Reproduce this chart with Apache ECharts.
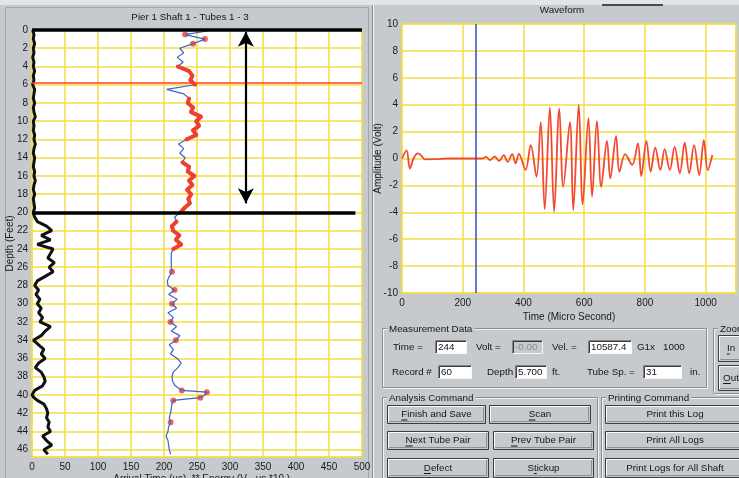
<!DOCTYPE html>
<html>
<head>
<meta charset="utf-8">
<title>Pier 1 Shaft 1 - Tubes 1 - 3</title>
<script src="https://cdn.jsdelivr.net/npm/echarts@6/dist/echarts.min.js"></script>
<style>
  html, body { margin: 0; padding: 0; background: #c6c9cd; }
  #chart { width: 739px; height: 478px; }
</style>
</head>
<body>
<div id="chart"></div>
<script>
// depth log (feet)
const depthFt = [0, 0.5, 1, 1.5, 2, 2.5, 3, 3.5, 4, 4.5, 5, 5.5, 6, 6.5, 7, 7.5, 8, 8.5, 9, 9.5,
  10, 10.5, 11, 11.5, 12, 12.5, 13, 13.5, 14, 14.5, 15, 15.5, 16, 16.5, 17, 17.5, 18, 18.5, 19, 19.5,
  20, 20.5, 21, 21.5, 22, 22.5, 23, 23.5, 24, 24.5, 25, 25.5, 26, 26.5, 27, 27.5, 28, 28.5, 29, 29.5,
  30, 30.5, 31, 31.5, 32, 32.5, 33, 33.5, 34, 34.5, 35, 35.5, 36, 36.5, 37, 37.5, 38, 38.5, 39, 39.5,
  39.7, 40, 40.3, 40.6, 41, 41.5, 42, 42.5, 43, 43.5, 44, 44.5, 45, 45.5, 46, 46.5]
// arrival time (us)
const arrivalUs = [274, 232, 262, 244, 224, 230, 220, 229, 221, 238, 243, 240, 247, 204, 230, 238, 236, 244, 241, 256,
  249, 253, 244, 249, 234, 222, 230, 224, 232, 228, 238, 236, 246, 238, 243, 235, 241, 237, 239, 231,
  225, 216, 219, 212, 214, 223, 218, 226, 214, 211, 211, 211, 211, 212, 208, 205, 206, 216, 207, 220,
  212, 219, 206, 214, 210, 219, 211, 224, 218, 208, 214, 210, 220, 226, 221, 214, 212, 213, 217, 227,
  265, 262, 255, 214, 212, 211, 210, 208, 210, 207, 206, 203, 206, 207, 208, 210]
// energy (V-us *10)
const energy = [1, 3, 2, 4, 2, 3, 1, 3, 2, 4, 2, 3, 1, 4, 3, 2, 4, 2, 3, 5,
  2, 3, 2, 4, 3, 5, 3, 2, 4, 3, 2, 4, 3, 5, 3, 2, 4, 2, 3, 4,
  2, 4, 8, 22, 30, 14, 28, 8, 32, 28, 24, 34, 26, 32, 20, 8, 4, 10, 6, 12,
  8, 14, 10, 16, 12, 28, 20, 14, 2, 10, 18, 14, 20, 10, 5, 14, 18, 20, 16, 4,
  1, 0, 3, 8, 18, 22, 24, 22, 26, 24, 28, 16, 22, 30, 18, 24]
// 2 = flagged band, 1 = flagged point, 0 = normal
const flag = [0, 1, 1, 1, 0, 0, 0, 0, 2, 2, 2, 2, 2, 0, 0, 2, 2, 2, 2, 2,
  2, 2, 2, 2, 2, 0, 0, 0, 0, 2, 2, 2, 2, 2, 2, 2, 2, 2, 2, 2,
  2, 0, 2, 2, 2, 2, 2, 2, 2, 0, 0, 0, 0, 1, 0, 0, 0, 1, 0, 0,
  1, 0, 0, 0, 1, 0, 0, 0, 1, 0, 0, 0, 0, 0, 0, 0, 0, 0, 0, 1,
  1, 0, 1, 1, 0, 0, 0, 0, 1, 0, 0, 0, 0, 0, 0, 0]

// waveform peaks / troughs
const waveTime = [0, 15, 26, 38, 52, 62, 76, 110, 150, 264, 276, 290, 305, 320, 335, 348, 363, 374, 385, 407,
  424, 443, 457, 470, 487, 501, 518, 531, 553, 564, 582, 595, 614, 626, 642, 656, 675, 686, 705, 716,
  735, 758, 777, 788, 805, 819, 834, 851, 865, 882, 898, 915, 931, 946, 962, 979, 994, 1007, 1022]
const waveVolt = [0, 0.6, -0.75, 0, 0.38, 0.25, -0.06, -0.05, 0, 0, 0.12, -0.12, 0.15, -0.18, 0.25, -0.25, 0.32, -0.36, 0.35, -0.85,
  1.0, -1.35, 2.7, -3.78, 3.8, -3.95, 3.7, -2.1, 2.7, -3.83, 4.0, -3.4, 3.0, -2.84, 2.8, -2.1, 1.3, -1.48, 1.67, -0.98,
  0.33, -0.48, 1.13, -1.3, 1.3, -0.98, 0.8, -0.86, 0.7, -0.86, 0.88, -1.1, 1.18, -1.1, 1.0, -1.23, 1.37, -0.86, 0.26]

const depthTicks = [0, 2, 4, 6, 8, 10, 12, 14, 16, 18, 20, 22, 24, 26, 28, 30, 32, 34, 36, 38, 40, 42, 44, 46]
const cursorTime = 244
const markerDepth = 5.8
const bottomDepth = 20

const bg = '#c6c9cd'
const yellow = '#f3dd45'
const markerRed = '#ff3b30'
const uiFont = '"Liberation Sans", Arial, sans-serif'
const uiSize = 9.8

const ctx = document.createElement('canvas').getContext('2d')
ctx.font = uiSize + 'px ' + uiFont
function tw (s) { return ctx.measureText(s).width }

function label (x, y, s, align, color) {
  return {
    type: 'text', x: x, y: y, silent: true,
    style: { text: s, fontFamily: uiFont, fontSize: uiSize, fill: color || '#151515', align: align || 'left', verticalAlign: 'middle' }
  }
}

function button (x, y, w, h, s, ul) {
  const kids = [
    { type: 'rect', shape: { x: 0.5, y: 0.5, width: w - 1, height: h - 1 }, style: { fill: bg, stroke: '#3c3c3c', lineWidth: 1 } },
    { type: 'polyline', shape: { points: [[1.5, h - 2], [1.5, 1.5], [w - 2, 1.5]] }, style: { stroke: '#fbfbfb', fill: null } },
    { type: 'polyline', shape: { points: [[2, h - 2.5], [w - 2.5, h - 2.5], [w - 2.5, 2]] }, style: { stroke: '#8d9195', fill: null } },
    label(w / 2, h / 2, s, 'center')
  ]
  if (ul != null) {
    const x0 = w / 2 - tw(s) / 2 + tw(s.slice(0, ul))
    kids.push({ type: 'line', shape: { x1: x0, y1: h / 2 + 5.5, x2: x0 + tw(s[ul]), y2: h / 2 + 5.5 }, style: { stroke: '#151515', lineWidth: 1 } })
  }
  return { type: 'group', x: x, y: y, children: kids }
}

function groupBox (x, y, w, h, title) {
  return {
    type: 'group', x: x, y: y,
    children: [
      { type: 'rect', shape: { x: 1.5, y: 1.5, width: w - 1, height: h - 1 }, style: { fill: null, stroke: '#f4f4f4' } },
      { type: 'rect', shape: { x: 0.5, y: 0.5, width: w - 1, height: h - 1 }, style: { fill: null, stroke: '#8a8e92' } },
      {
        type: 'text', x: 5, y: 1,
        style: { text: title, fontFamily: uiFont, fontSize: uiSize, fill: '#151515', align: 'left', verticalAlign: 'middle', backgroundColor: bg, padding: [0, 2] }
      }
    ]
  }
}

function textBox (x, y, w, h, val, disabled) {
  return {
    type: 'group', x: x, y: y,
    children: [
      { type: 'rect', shape: { x: 0, y: 0, width: w, height: h }, style: { fill: disabled ? bg : '#ffffff' } },
      { type: 'polyline', shape: { points: [[0.5, h], [0.5, 0.5], [w, 0.5]] }, style: { stroke: '#80848a', fill: null } },
      { type: 'polyline', shape: { points: [[1.5, h - 1], [1.5, 1.5], [w - 1, 1.5]] }, style: { stroke: '#3a3a3a', fill: null } },
      { type: 'polyline', shape: { points: [[0.5, h - 0.5], [w - 0.5, h - 0.5], [w - 0.5, 0.5]] }, style: { stroke: '#f8f8f8', fill: null } },
      {
        type: 'text', x: 3, y: h / 2 + 0.5,
        style: { text: val, fontFamily: uiFont, fontSize: uiSize, fill: disabled ? '#8a8e92' : '#151515', verticalAlign: 'middle', width: w - 4, overflow: 'truncate', ellipsis: '' }
      }
    ]
  }
}

const arrivalPts = depthFt.map((d, i) => [arrivalUs[i], d])
const energyPts = depthFt.map((d, i) => [energy[i], d])
const bandPts = depthFt.map((d, i) => flag[i] === 2 ? [arrivalUs[i], d] : [null, d])
const dotPts = depthFt.filter((d, i) => flag[i] === 1).map(d => [arrivalUs[depthFt.indexOf(d)], d])
const wavePts = waveTime.map((t, i) => [t, waveVolt[i]])

const axisText = { color: '#1a1a1a', fontSize: 10, fontFamily: uiFont }

const graphics = [
  { type: 'rect', shape: { x: 0, y: 0, width: 739, height: 5 }, style: { fill: '#e3e4e6' } },
  { type: 'rect', shape: { x: 5.5, y: 7.5, width: 363, height: 480 }, style: { fill: null, stroke: '#a2a6aa' } },
  { type: 'line', shape: { x1: 372.5, y1: 5, x2: 372.5, y2: 478 }, style: { stroke: '#8a8e92' } },
  { type: 'line', shape: { x1: 373.5, y1: 5, x2: 373.5, y2: 478 }, style: { stroke: '#f4f4f4' } },
  { type: 'rect', shape: { x: 602, y: 4, width: 61, height: 2 }, style: { fill: '#4a4a4a' } },
  label(190, 17, 'Pier 1 Shaft 1 - Tubes 1 - 3', 'center'),
  label(562, 10, 'Waveform', 'center'),

  groupBox(382, 328, 325, 60, 'Measurement Data'),
  label(393, 347, 'Time ='),
  textBox(435, 340, 32, 14, String(cursorTime)),
  label(476, 347, 'Volt ='),
  textBox(512, 340, 31, 14, '-0.000', true),
  label(552, 347, 'Vel. ='),
  textBox(588, 340, 44, 14, '10587.47'),
  label(637, 347, 'G1x'),
  label(663, 347, '1000'),
  label(392, 372, 'Record #'),
  textBox(438, 365, 34, 14, '60'),
  label(487, 372, 'Depth'),
  textBox(515, 365, 32, 14, '5.700227'),
  label(552, 372, 'ft.'),
  label(587, 372, 'Tube Sp. ='),
  textBox(643, 365, 39, 14, '31'),
  label(690, 372, 'in.'),

  groupBox(713, 328, 40, 66, 'Zoom'),
  button(718, 335, 26, 27, 'In', 0),
  button(718, 365, 26, 26, 'Out', 0),

  groupBox(382, 397, 216, 100, 'Analysis Command'),
  button(387, 405, 99, 19, 'Finish and Save', 0),
  button(489, 405, 102, 19, 'Scan', 0),
  button(387, 431, 102, 19, 'Next Tube Pair', 0),
  button(493, 431, 101, 19, 'Prev Tube Pair', 0),
  button(387, 458, 102, 20, 'Defect', 0),
  button(493, 458, 101, 20, 'Stickup', 1),

  groupBox(601, 397, 150, 100, 'Printing Command'),
  button(605, 405, 140, 19, 'Print this Log'),
  button(605, 431, 140, 19, 'Print All Logs'),
  button(605, 458, 140, 20, 'Print Logs for All Shaft')
]

const chart = echarts.init(document.getElementById('chart'), null, { renderer: 'canvas' })

const option = {
  backgroundColor: bg,
  animation: false,
  grid: [
    { left: 32, top: 30, width: 330, height: 427, show: true, backgroundColor: '#ffffff', borderColor: yellow, borderWidth: 1, outerBoundsMode: 'none' },
    { left: 402, top: 24, width: 334, height: 269, show: true, backgroundColor: '#ffffff', borderColor: yellow, borderWidth: 1, outerBoundsMode: 'none' }
  ],
  xAxis: [
    {
      gridIndex: 0, type: 'value', min: 0, max: 500, interval: 50,
      axisLine: { show: false }, axisTick: { show: false },
      axisLabel: Object.assign({ margin: 5 }, axisText),
      splitLine: { lineStyle: { color: yellow, width: 1.5 } },
      name: '-- Arrival Time (us), ** Energy (V - us *10 )', nameLocation: 'middle', nameGap: 17,
      nameMoveOverlap: false, nameTextStyle: axisText
    },
    {
      gridIndex: 1, type: 'value', min: 0, max: 1100, interval: 200,
      axisLine: { show: false }, axisTick: { show: false },
      axisLabel: Object.assign({ margin: 5, formatter: v => v % 200 === 0 ? String(v) : '' }, axisText),
      splitLine: { lineStyle: { color: yellow, width: 1.5 } },
      name: 'Time (Micro Second)', nameLocation: 'middle', nameGap: 19,
      nameMoveOverlap: false, nameTextStyle: axisText
    }
  ],
  yAxis: [
    {
      gridIndex: 0, type: 'value', inverse: true, min: 0, max: 46.8, interval: 2,
      axisLine: { show: false }, axisTick: { show: false },
      axisLabel: Object.assign({ margin: 4, formatter: v => depthTicks.indexOf(v) >= 0 ? String(v) : '' }, axisText),
      splitLine: { lineStyle: { color: yellow, width: 1.5 } },
      name: 'Depth (Feet)', nameLocation: 'middle', nameGap: 17, nameRotate: 90,
      nameMoveOverlap: false, nameTextStyle: axisText
    },
    {
      gridIndex: 1, type: 'value', min: -10, max: 10, interval: 2,
      axisLine: { show: false }, axisTick: { show: false },
      axisLabel: Object.assign({ margin: 4 }, axisText),
      splitLine: { lineStyle: { color: yellow, width: 1.5 } },
      name: 'Amplitude (Volt)', nameLocation: 'middle', nameGap: 19, nameRotate: 90,
      nameMoveOverlap: false, nameTextStyle: axisText
    }
  ],
  series: [
    {
      name: 'Energy', type: 'line', xAxisIndex: 0, yAxisIndex: 0, data: energyPts,
      showSymbol: false, lineStyle: { color: '#111', width: 3 }, silent: true
    },
    {
      name: 'Arrival Time', type: 'line', xAxisIndex: 0, yAxisIndex: 0, data: arrivalPts,
      showSymbol: false, lineStyle: { color: '#3a62c8', width: 1.2 }, silent: true
    },
    {
      name: 'Flagged', type: 'line', xAxisIndex: 0, yAxisIndex: 0, data: bandPts,
      connectNulls: false, showSymbol: true, symbol: 'circle', symbolSize: 4,
      itemStyle: { color: '#ee4030' }, lineStyle: { color: '#ee4030', width: 4 }, silent: true,
      markLine: {
        silent: true, symbol: 'none', label: { show: false },
        lineStyle: { color: '#000', width: 3.5, type: 'solid' },
        data: [
          [{ coord: [0, bottomDepth] }, { coord: [490, bottomDepth] }],
          [{ coord: [0, 0] }, { coord: [500, 0] }]
        ]
      }
    },
    {
      name: 'Marker', type: 'line', xAxisIndex: 0, yAxisIndex: 0, data: [],
      silent: true,
      markLine: {
        silent: true, symbol: 'none', label: { show: false },
        lineStyle: { color: markerRed, width: 1.6, type: 'solid' },
        data: [{ yAxis: markerDepth }]
      }
    },
    {
      name: 'Flagged points', type: 'scatter', xAxisIndex: 0, yAxisIndex: 0, data: dotPts,
      symbolSize: 6, itemStyle: { color: '#ee4030' }, silent: true,
      markLine: {
        silent: true, symbol: ['arrow', 'arrow'], symbolSize: [12, 15], label: { show: false },
        lineStyle: { color: '#000', width: 2.2, type: 'solid' },
        data: [[{ coord: [324, 0.2] }, { coord: [324, 19] }]]
      }
    },
    {
      name: 'Waveform', type: 'line', xAxisIndex: 1, yAxisIndex: 1, data: wavePts,
      smooth: 0.35, showSymbol: false, lineStyle: { color: '#f24a32', width: 1.8 }, silent: true,
      markLine: {
        silent: true, symbol: 'none', label: { show: false },
        lineStyle: { color: '#3050c0', width: 1.5, type: 'solid' },
        data: [{ xAxis: cursorTime }]
      }
    }
  ],
  graphic: graphics
}

chart.setOption(option)
</script>
</body>
</html>
